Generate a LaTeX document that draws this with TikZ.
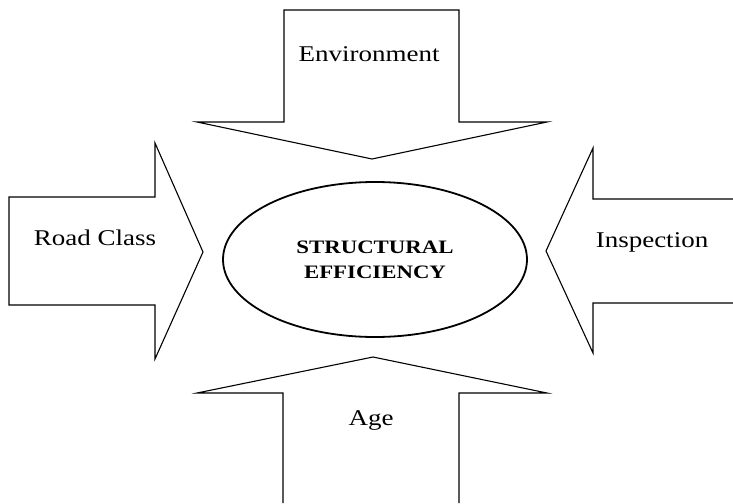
\documentclass[tikz,border=0pt]{standalone}
\usepackage{fontspec}
\setmainfont{Liberation Serif}[FakeStretch=1.2]
\usetikzlibrary{shapes}
\tikzstyle{arrowbox} = [draw, line width=1.1pt]
\tikzstyle{factor} = [font=\fontsize{22.5}{27}\selectfont, anchor=base, inner sep=0pt]
\tikzstyle{core} = [ellipse, draw, line width=1.8pt, minimum width=304pt, 
    minimum height=155pt, align=center, font=\fontsize{19}{25}\selectfont\bfseries]

\begin{document}
\begin{tikzpicture}[x=1pt, y=-1pt]
		\useasboundingbox (0,0) rectangle (733,503);
		
		\draw [arrowbox] (284,10) -- (459,10) -- (459,122) -- (547,122) -- (372,159) -- (197,122) -- (284,122) -- cycle;
		\draw [arrowbox] (9,197) -- (155,197) -- (155,143) -- (203,252) -- (155,359) -- (155,305) -- (9,305) -- cycle;
		\draw [arrowbox] (733,199) -- (593,199) -- (593,148) -- (546,251) -- (593,353) -- (593,303) -- (733,303);
		\draw [arrowbox] (283,503) -- (283,393) -- (197,393) -- (373,357) -- (547,393) -- (459,393) -- (459,503);
		
		\node [core] (core) at (375,259.5) {STRUCTURAL\\EFFICIENCY};
		\node [factor] (env) at (369,62) {Environment};
		\node [factor] (road) at (95,245) {Road Class};
		\node [factor] (insp) at (652,247) {Inspection};
		\node [factor] (age) at (371,425) {Age};
	\end{tikzpicture}
\end{document}
